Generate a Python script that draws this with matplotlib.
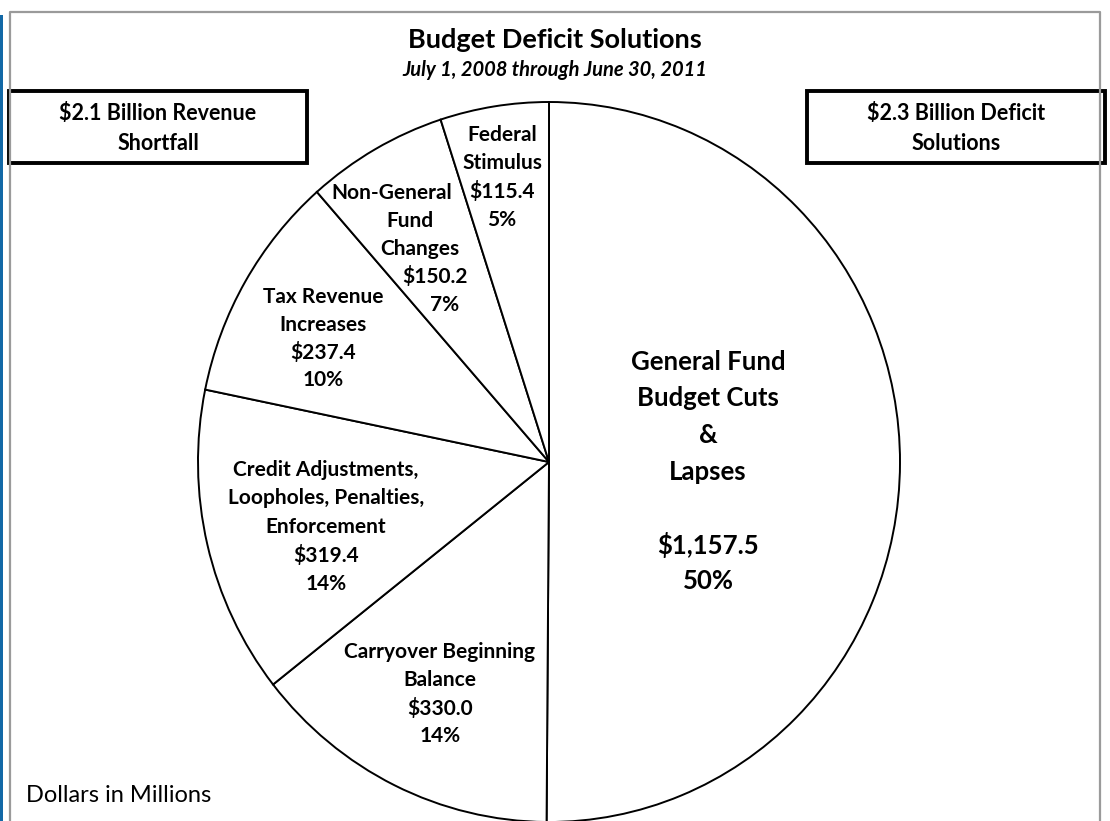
import matplotlib
matplotlib.use("Agg")
import matplotlib.pyplot as plt
from matplotlib.patches import Rectangle

plt.rcParams['font.family'] = ['Lato', 'DejaVu Sans']

# data (dollars in millions), clockwise from 12 o'clock
names = ["General Fund\nBudget Cuts\n&\nLapses",
         "Carryover Beginning\nBalance",
         "Credit Adjustments,\nLoopholes, Penalties,\nEnforcement",
         "Tax Revenue\nIncreases",
         "Non-General\nFund\nChanges",
         "Federal\nStimulus"]
values = [1157.5, 330.0, 319.4, 237.4, 150.2, 115.4]
revenue_shortfall = 2.1  # billions
title = "Budget Deficit Solutions"
subtitle = "July 1, 2008 through June 30, 2011"

W, H = 1110, 821
fig = plt.figure(figsize=(W / 100, H / 100), dpi=100)
fig.patch.set_facecolor("white")

# pie axes: centre at (549, 462) px, radius ~351 px wide, 360 px tall
cx, cy, rx, ry = 549, 462, 351, 360
ax = fig.add_axes([0, 0, 1, 1])
ax.pie(values, startangle=90, counterclock=False, colors=["white"] * len(values),
       wedgeprops=dict(edgecolor="black", linewidth=1.4))
ax.set_aspect("auto")
ax.set_xlim(-cx / rx, (W - cx) / rx)
ax.set_ylim(-(H - cy) / ry, cy / ry)
ax.axis("off")

# overlay in pixel coords for text / boxes / frame
ov = fig.add_axes([0, 0, 1, 1])
ov.set_xlim(0, W)
ov.set_ylim(H, 0)
ov.axis("off")
ov.patch.set_alpha(0)

# frame + blue edge bar
ov.plot([9.5, 9.5, 1100, 1100], [H + 5, 12, 12, H + 5], color="#9a9a9a", lw=1.6)
ov.add_patch(Rectangle((0, 15), 3.2, H, color="#1268a6", lw=0))

ov.text(555, 40, title, ha="center", va="center", fontsize=19.5, fontweight="bold")
ov.text(555, 70, subtitle, ha="center", va="center", fontsize=14.5,
        fontweight="bold", style="italic")

total = sum(values)
boxes = [(9, "$%.1f Billion Revenue\nShortfall" % revenue_shortfall),
         (807, "$%.1f Billion Deficit\nSolutions" % (round(total / 100) / 10))]
for bx, txt in boxes:
    ov.add_patch(Rectangle((bx, 91), 298, 72, fill=False, edgecolor="black", lw=2.8))
    for k, line in enumerate(txt.split("\n")):
        ov.text(bx + 149, 114 + 29 * k, line, ha="center", va="center",
                fontsize=15.5, fontweight="bold")

# slice labels: per-line x positions (last one repeats), first line y, line step (px)
label_x = [[708], [440], [326], [323], [392, 410, 420, 435, 445], [502]]
label_y0 = [362, 652, 470, 297, 193, 135]
label_dy = [36.5, 28, 28.5, 27.8, 28, 28.3]
for i, v in enumerate(values):
    pct = round(100 * v / total)
    lines = names[i].split("\n")
    fs = 15
    if i == 0:
        lines.append("")
        fs = 18.5
    lines += ["${:,.1f}".format(v), "%d%%" % pct]
    xs = label_x[i]
    for k, line in enumerate(lines):
        ov.text(xs[min(k, len(xs) - 1)], label_y0[i] + label_dy[i] * k, line,
                ha="center", va="center", fontsize=fs, fontweight="bold")

ov.text(26, 796, "Dollars in Millions", ha="left", va="center", fontsize=17)

fig.savefig("out.png", dpi=100)
